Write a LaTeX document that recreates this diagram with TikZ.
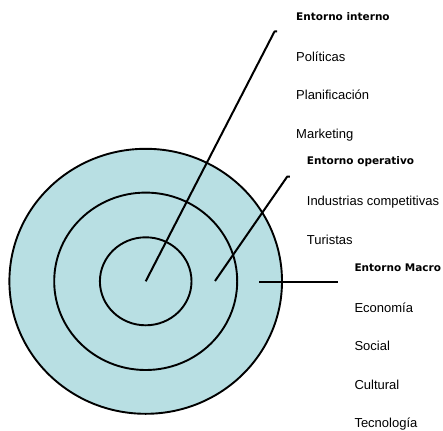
\documentclass[tikz,border=0pt]{standalone}
\usepackage{fontspec}
\setmainfont{Liberation Sans}
\newfontfamily\headfont{DejaVu Sans}
\usetikzlibrary{shapes.geometric,positioning}
\definecolor{ringfill}{RGB}{184,223,227}
\tikzstyle{ring} = [ellipse, draw, line width=1.9pt, inner sep=0pt]
\tikzstyle{head} = [inner sep=0pt, font=\headfont\bfseries\fontsize{10.5}{12}\selectfont]
\tikzstyle{item} = [inner sep=0pt, font=\fontsize{13}{15}\selectfont]
\tikzstyle{line} = [draw, line width=2pt, line join=round]

\begin{document}
\begin{tikzpicture} [x=1pt, y=-1pt]
\useasboundingbox (0,0) rectangle (443,430);
% Place nodes
\node [ring, fill=ringfill, minimum width=272.6pt, minimum height=265pt] (outer) at (145.7,281.3) {};
\node [ring, minimum width=183pt, minimum height=177.4pt] (middle) at (outer.center) {};
\node [ring, minimum width=91.6pt, minimum height=88pt] (inner) at (outer.center) {};
\coordinate (core) at (outer.center);
\coordinate (opdot) at (215,281);
\coordinate (macdot) at (259,282);
\coordinate (inttip) at (274.5,31.5);
\coordinate (optip) at (287.3,176.5);
\coordinate (macend) at (338.3,282);
% Entorno interno
\node [head, anchor=base west] (intlbl) at (296,20.5) {Entorno interno};
\node [item, below=41pt of intlbl.base west, anchor=base west] (pol) {Políticas};
\node [item, below=38.5pt of pol.base west, anchor=base west] (plan) {Planificación};
\node [item, below=38.5pt of plan.base west, anchor=base west] (mkt) {Marketing};
% Entorno operativo
\node [head, anchor=base west] (oplbl) at (306.7,164.8) {Entorno operativo};
\node [item, below=41pt of oplbl.base west, anchor=base west] (ind) {Industrias competitivas};
\node [item, below=38.5pt of ind.base west, anchor=base west] (tur) {Turistas};
% Entorno Macro
\node [head, anchor=base west] (maclbl) at (354.3,271.3) {Entorno Macro};
\node [item, below=41pt of maclbl.base west, anchor=base west] (eco) {Economía};
\node [item, below=38.5pt of eco.base west, anchor=base west] (soc) {Social};
\node [item, below=38.5pt of soc.base west, anchor=base west] (cult) {Cultural};
\node [item, below=38.5pt of cult.base west, anchor=base west] (tec) {Tecnología};
% Draw edges
\path [line] (core) -- (inttip) -- ++(2.5,0);
\path [line] (opdot) -- (optip) -- ++(2.5,0);
\path [line] (macdot) -- (macend);

\end{tikzpicture}
\end{document}
